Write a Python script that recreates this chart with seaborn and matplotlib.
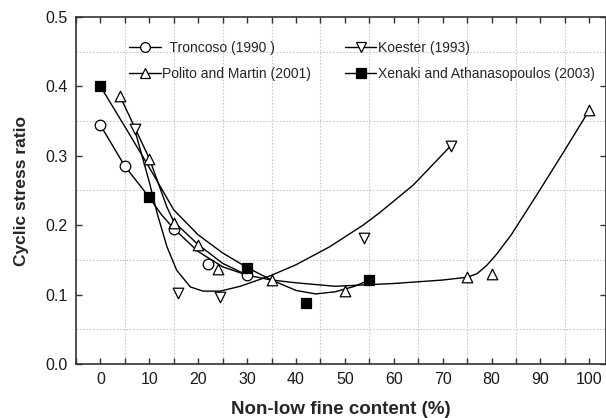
import numpy as np
import pandas as pd
import matplotlib
matplotlib.use("Agg")
import matplotlib.pyplot as plt
from matplotlib.ticker import MultipleLocator
from matplotlib.lines import Line2D
import seaborn as sns

# ---- measured points (markers) ----
troncoso_x = [0, 5, 15, 22, 30]
troncoso_y = [0.344, 0.285, 0.195, 0.144, 0.128]

polito_x = [4, 10, 15, 20, 24, 35, 50, 75, 80, 100]
polito_y = [0.386, 0.296, 0.203, 0.171, 0.137, 0.121, 0.105, 0.125, 0.130, 0.366]

koester_x = [7, 15.8, 24.5, 54, 71.6]
koester_y = [0.338, 0.103, 0.097, 0.182, 0.314]

xenaki_x = [0, 10, 30, 42, 55]
xenaki_y = [0.400, 0.241, 0.139, 0.088, 0.121]

# ---- trend curves ----
troncoso_cx = [0, 5, 10, 12.5, 15, 20, 25, 30]
troncoso_cy = [0.344, 0.285, 0.240, 0.215, 0.195, 0.162, 0.140, 0.128]

polito_cx = [4, 10, 13.6, 15, 20, 25, 30, 35, 40, 48, 60, 70, 75, 77, 79, 81, 84, 89, 94.6, 100]
polito_cy = [0.386, 0.296, 0.226, 0.205, 0.172, 0.145, 0.128, 0.121, 0.117, 0.112, 0.116,
             0.121, 0.125, 0.130, 0.142, 0.158, 0.186, 0.241, 0.304, 0.366]

koester_cx = [7, 10, 11.6, 13.6, 15.6, 18.4, 21, 24.5, 28.6, 34.7, 40, 46.9, 53.7, 57.1, 64, 71.6]
koester_cy = [0.338, 0.262, 0.217, 0.169, 0.135, 0.111, 0.105, 0.105, 0.112, 0.127, 0.143,
              0.169, 0.200, 0.218, 0.258, 0.314]

xenaki_cx = [0, 5, 10, 15, 20, 25, 30, 35, 40, 44, 48, 52, 55]
xenaki_cy = [0.400, 0.342, 0.283, 0.222, 0.186, 0.160, 0.139, 0.121, 0.106, 0.101, 0.104, 0.112, 0.121]

labels = ["  Troncoso (1990 )", "Polito and Martin (2001)", "Koester (1993)",
          "Xenaki and Athanasopoulos (2003)"]
xticks = [0, 10, 20, 30, 40, 50, 60, 70, 80, 90, 100]
yticks = [0.0, 0.1, 0.2, 0.3, 0.4, 0.5]

sns.set_theme(style="white")
plt.rcParams["font.family"] = ["Liberation Sans", "DejaVu Sans"]

fig = plt.figure(figsize=(6.06, 4.18), dpi=100)
ax = fig.add_axes([76 / 606, 1 - 364 / 418, 1 - 76 / 606, (364 - 17) / 418])

series = [
    (troncoso_x, troncoso_y, troncoso_cx, troncoso_cy, "o", "white"),
    (polito_x, polito_y, polito_cx, polito_cy, "^", "white"),
    (koester_x, koester_y, koester_cx, koester_cy, "v", "white"),
    (xenaki_x, xenaki_y, xenaki_cx, xenaki_cy, "s", "black"),
]

lw = 1.0
for (mx, my, cx, cy, mk, fc), lab in zip(series, labels):
    sns.lineplot(x=cx, y=cy, ax=ax, color="black", linewidth=lw, sort=False,
                 estimator=None, legend=False)
    sns.scatterplot(x=mx, y=my, ax=ax, marker=mk, s=58, facecolor=fc,
                    edgecolor="black", linewidth=0.9, legend=False, zorder=5)

handles = []
for (_, _, _, _, mk, fc) in series:
    handles.append(Line2D([0], [0], color="black", lw=lw, marker=mk, markersize=7,
                          markerfacecolor=fc, markeredgecolor="black", markeredgewidth=0.9))
leg = ax.legend(handles, labels, ncol=2, loc="upper left",
                bbox_to_anchor=((129 - 76) / 530, 1 - (41 - 17) / 347),
                frameon=False, fontsize=10, handlelength=2.3, handletextpad=0.1,
                columnspacing=2.4, labelspacing=0.85, borderpad=0, borderaxespad=0)

ax.set_xlim(-5, 103.4)
ax.set_ylim(0, 0.5)
ax.set_xticks(xticks)
ax.set_xticklabels([str(t) for t in xticks])
ax.set_yticks(yticks)
ax.set_yticklabels([f"{t:.1f}" for t in yticks])
ax.xaxis.set_minor_locator(MultipleLocator(5))
ax.yaxis.set_minor_locator(MultipleLocator(0.05))

ax.grid(False)
for v in np.arange(5, 100, 10):
    ax.axvline(v, color="#c8c8c8", lw=0.8, ls=(0, (1.5, 1.5)), zorder=0)
for v in np.arange(0.05, 0.5, 0.1):
    ax.axhline(v, color="#c8c8c8", lw=0.8, ls=(0, (1.5, 1.5)), zorder=0)

ax.tick_params(axis="x", which="both", direction="in", top=True, bottom=True,
               length=4.5, width=1.0, color="#333333", labelsize=11.5, pad=6,
               labelcolor="#1a1a1a")
ax.tick_params(axis="y", which="major", direction="in", left=True, right=True,
               length=4.5, width=1.0, color="#333333", labelsize=11.5, pad=6,
               labelcolor="#1a1a1a")
ax.tick_params(axis="y", which="minor", left=False, right=False)

for s in ax.spines.values():
    s.set_color("#333333")
    s.set_linewidth(1.2)

ax.set_xlabel("Non-low fine content (%)", fontsize=13.5, fontweight="bold", labelpad=10)
ax.set_ylabel("Cyclic stress ratio", fontsize=12.5, fontweight="bold", labelpad=12)

fig.savefig("out.png", dpi=100)
